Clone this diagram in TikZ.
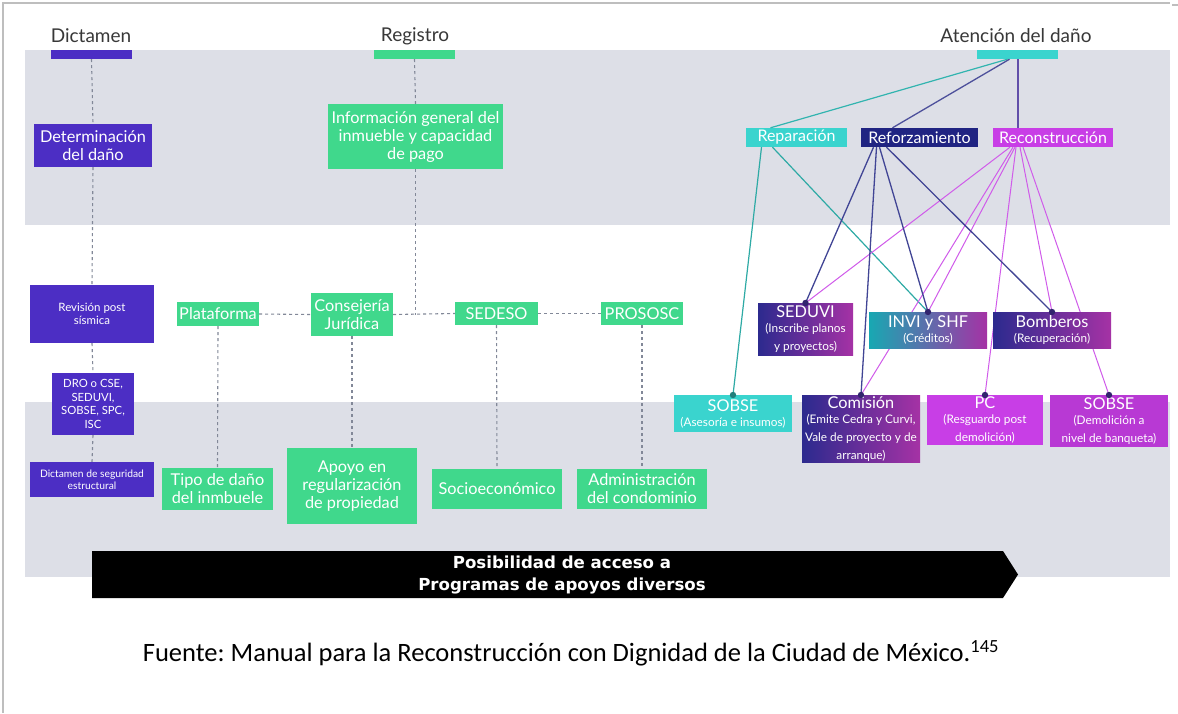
\documentclass[tikz,border=0pt]{standalone}
\usepackage{fontspec}
\setmainfont{Lato}
\newfontfamily\banfont{DejaVu Sans}
\newfontfamily\srcfont{Carlito}
\usetikzlibrary{calc}
\definecolor{bandgray}{RGB}{221,223,231}
\definecolor{dpurple}{RGB}{76,46,196}
\definecolor{dgreen}{RGB}{64,216,140}
\definecolor{ccyan}{RGB}{58,212,206}
\definecolor{cnavy}{RGB}{32,36,130}
\definecolor{cmag}{RGB}{200,62,230}
\definecolor{gnavy}{RGB}{44,42,142}
\definecolor{gmag}{RGB}{165,50,165}
\definecolor{gteal}{RGB}{24,168,178}
\definecolor{dashgray}{RGB}{130,136,152}
\definecolor{dotc}{RGB}{50,36,110}
\definecolor{framegray}{RGB}{190,190,190}
\newcommand\stxt{\fontsize{11.8}{13.2}\selectfont}
\newcommand\btxt{\fontsize{16.3}{18}\selectfont}
\frenchspacing
\begin{document}
\begin{tikzpicture}[x=1pt,y=-1pt,
  box/.style={rectangle, inner sep=0pt, align=center, text=white, font=\btxt},
  pbox/.style={box, fill=dpurple},
  gbox/.style={box, fill=dgreen},
  hbar/.style={rectangle, inner sep=0pt, minimum width=81pt, minimum height=9pt},
  hdr/.style={text=black!78, font=\fontsize{19}{22}\selectfont, inner sep=0pt},
  dline/.style={draw=dashgray, line width=1.1pt, dash pattern=on 3pt off 3pt},
  cyl/.style={draw=ccyan!80!black, line width=1.2pt},
  navyl/.style={draw=cnavy!85, line width=1.3pt},
  magl/.style={draw=cmag!85, line width=1pt},
  hbox/.style={box, minimum height=19pt, font=\fontsize{16}{18}\selectfont}
]
\useasboundingbox (0,0) rectangle (1178,713);
\fill[white] (0,0) rectangle (1178,713);
% frame
\draw[framegray, line width=1.5pt] (3,713) -- (3,3) -- (1170,3);
\draw[framegray, line width=1.5pt] (1172,5) -- (1178,5);
% bands
\fill[bandgray] (25,50) rectangle (1170,225);
\fill[bandgray] (25,402) rectangle (1170,577);

% headers
\node[hdr] (hdict) at (91,36) {Dictamen};
\node[hdr] (hreg) at (415,36) {Registro};
\node[hdr] (hat) at (1016,36) {Atención del daño};
\node[hbar, fill=dpurple] (dictBar) at (91.5,54.5) {};
\node[hbar, fill=dgreen] (regBar) at (414.5,54.5) {};
\node[hbar, fill=ccyan] (atBar) at (1017.5,54.5) {};

% Dictamen column
\node[pbox, minimum width=118pt, minimum height=43pt] (det) at (93,145.5) {Determinación\\del daño};
\node[pbox, minimum width=124pt, minimum height=58pt, font=\fontsize{11.5}{13}\selectfont] (rev) at (92,314) {Revisión post\\sísmica};
\node[pbox, minimum width=82pt, minimum height=62pt, font=\fontsize{11.3}{13.5}\selectfont] (dro) at (93,404) {DRO o CSE,\\SEDUVI,\\SOBSE, SPC,\\ISC};
\node[pbox, minimum width=124pt, minimum height=35pt, font=\fontsize{10.3}{12}\selectfont] (dseg) at (92,479.5) {Dictamen de seguridad\\estructural};

% Registro column
\node[gbox, minimum width=175pt, minimum height=65pt] (info) at (415.5,136.5) {Información general del\\inmueble y capacidad\\de pago};
\node[gbox, minimum width=82pt, minimum height=24pt] (plat) at (218,314) {Plataforma};
\node[gbox, minimum width=82pt, minimum height=43pt] (cons) at (352,314.5) {Consejería\\Jurídica};
\node[gbox, minimum width=83pt, minimum height=23pt] (sedeso) at (496.5,313.5) {SEDESO};
\node[gbox, minimum width=82pt, minimum height=23pt] (prososc) at (642,313.5) {PROSOSC};
\node[gbox, minimum width=111pt, minimum height=42pt] (tipo) at (217.5,489) {Tipo de daño\\del inmbuele};
\node[gbox, minimum width=130pt, minimum height=76pt] (apoyo) at (352,486) {Apoyo en\\regularización\\de propiedad};
\node[gbox, minimum width=130pt, minimum height=40pt] (socio) at (497,489) {Socioeconómico};
\node[gbox, minimum width=130pt, minimum height=40pt] (admin) at (642,489) {Administración\\del condominio};
\coordinate (junc) at (info.south |- cons.east);

% dashed connectors
\draw[dline] (dictBar.south) -- (det.north);
\draw[dline] (det.south) -- (rev.north);
\draw[dline] (rev.south) -- (dro.north);
\draw[dline] (dro.south) -- (dseg.north);
\draw[dline] (regBar.south) -- (info.north);
\draw[dline] (info.south) -- (junc);
\draw[dline] (plat.east) -- (cons.west);
\draw[dline] (cons.east) -- (sedeso.west);
\draw[dline] (sedeso.east) -- (prososc.west);
\draw[dline] (plat.south) -- (tipo.north);
\draw[dline] (cons.south) -- (apoyo.north);
\draw[dline] (sedeso.south) -- (socio.north);
\draw[dline] (prososc.south) -- (admin.north);

% Atención branch nodes
\node[hbox, fill=ccyan, minimum width=101pt] (rep) at (796.5,137.5) {Reparación};
\node[hbox, fill=cnavy, minimum width=117pt] (ref) at (919.5,137.5) {Reforzamiento};
\node[hbox, fill=cmag, minimum width=120pt] (rec) at (1053,137.5) {Reconstrucción};

\coordinate (seduviT) at (805.5,303);
\coordinate (inviT) at (928,312);
\coordinate (bombT) at (1052,312);
\coordinate (sobsecT) at (733,395);
\coordinate (comiT) at (861,395);
\coordinate (pcT) at (985,395);
\coordinate (sobsemT) at (1109,395);

% solid connectors
\draw[draw=ccyan!85!black, line width=1.2pt] ([xshift=-10pt]atBar.south) -- ([xshift=-26pt]rep.north);
\draw[draw=cnavy!80, line width=1.3pt] ([xshift=-8pt]atBar.south) -- ([xshift=-27pt]ref.north);
\draw[draw=dpurple!60!gray, line width=1.1pt] ([xshift=0.5pt]atBar.south) -- ([xshift=-35pt]rec.north);

\draw[cyl] ([xshift=-35pt]rep.south) -- (sobsecT);
\draw[cyl] ([xshift=-24pt]rep.south) -- (inviT);

\draw[magl] ([xshift=-43pt]rec.south) -- (seduviT);
\draw[magl] ([xshift=-40pt]rec.south) -- (comiT);
\draw[magl] ([xshift=-38pt]rec.south) -- (inviT);
\draw[magl] ([xshift=-37pt]rec.south) -- (pcT);
\draw[magl] ([xshift=-33pt]rec.south) -- (bombT);
\draw[magl] ([xshift=-30pt]rec.south) -- (sobsemT);

\draw[navyl] ([xshift=-46pt]ref.south) -- (seduviT);
\draw[navyl] ([xshift=-43pt]ref.south) -- (comiT);
\draw[navyl] ([xshift=-40pt]ref.south) -- (inviT);
\draw[navyl] ([xshift=-33pt]ref.south) -- (bombT);

% child boxes
\node[box, left color=gnavy, right color=gmag, minimum width=95pt, minimum height=52pt, anchor=north] (seduvi) at (seduviT) {SEDUVI\\[-3pt]\stxt (Inscribe planos\\\stxt y proyectos)};
\node[box, left color=gteal, right color=gmag, minimum width=118pt, minimum height=36pt, anchor=north] (invi) at (inviT) {INVI y SHF\\[-3pt]\stxt (Créditos)};
\node[box, left color=gnavy, right color=gmag, minimum width=118pt, minimum height=36pt, anchor=north] (bomb) at (bombT) {Bomberos\\[-3pt]\stxt (Recuperación)};
\node[box, fill=ccyan, minimum width=118pt, minimum height=37pt, anchor=north] (sobsec) at (sobsecT) {SOBSE\\[-3pt]\stxt (Asesoría e insumos)};
\node[box, left color=gnavy, right color=gmag, minimum width=118pt, minimum height=67pt, anchor=north] (comi) at (comiT) {Comisión\\[-3pt]\stxt (Emite Cedra y Curvi,\\\stxt Vale de proyecto y de\\\stxt arranque)};
\node[box, fill=cmag, minimum width=116pt, minimum height=50pt, anchor=north] (pc) at (pcT) {PC\\[-3pt]\stxt (Resguardo post\\\stxt demolición)};
\node[box, fill=cmag!92!black, minimum width=118pt, minimum height=52pt, anchor=north] (sobsem) at (sobsemT) {SOBSE\\[-3pt]\stxt (Demolición a\\\stxt nivel de banqueta)};

% dots
\foreach \n in {seduvi,invi,bomb,comi,pc,sobsem}{\fill[dotc] (\n.north) circle (3.2pt);}
\fill[ccyan!60!black] (sobsec.north) circle (3.2pt);

% banner
\fill[black] (92,551) -- (1003,551) -- (1018,574.5) -- (1003,598) -- (92,598) -- cycle;
\node[text=white, align=center, inner sep=0pt, font=\banfont\bfseries\fontsize{16.6}{22}\selectfont] (banner) at (562,574.5) {Posibilidad de acceso a\\Programas de apoyos diversos};

% source
\node[inner sep=0pt, text=black, font=\srcfont\fontsize{26.5}{30}\selectfont] (src) at (571,653) {Fuente: Manual para la Reconstrucción con Dignidad de la Ciudad de México.\textsuperscript{145}};
\end{tikzpicture}
\end{document}
